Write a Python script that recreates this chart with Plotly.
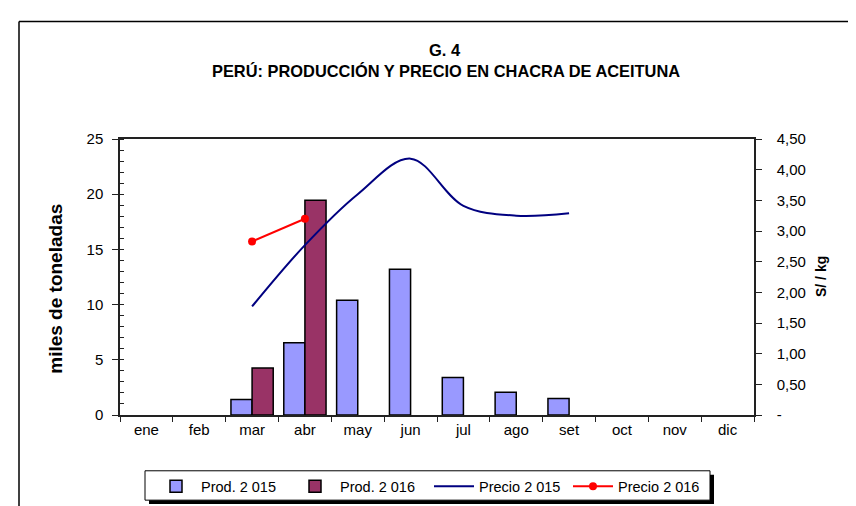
import plotly.graph_objects as go

months = ["ene", "feb", "mar", "abr", "may", "jun", "jul", "ago", "set", "oct", "nov", "dic"]
prod_2015 = [None, None, 1.4, 6.55, 10.4, 13.2, 3.4, 2.05, 1.5, None, None, None]
prod_2016 = [None, None, 4.25, 19.45, None, None, None, None, None, None, None, None]
precio_2015 = [None, None, 1.77, 2.77, 3.60, 4.18, 3.41, 3.25, 3.29, None, None, None]
precio_2016 = [None, None, 2.83, 3.20, None, None, None, None, None, None, None, None]

y_left_ticks = [0, 5, 10, 15, 20, 25]
y_right_ticks = [0, 0.5, 1, 1.5, 2, 2.5, 3, 3.5, 4, 4.5]
y_right_text = ["-", "0,50", "1,00", "1,50", "2,00", "2,50", "3,00", "3,50", "4,00", "4,50"]

W, H = 856, 506
L, R, T, B = 112, 746, 131, 413


def px(x):
    return (x - L) / (R - L)


def py(y):
    return (B - y) / (B - T)


FONT = "Liberation Sans, Arial, sans-serif"

fig = go.Figure()
fig.add_trace(go.Bar(x=months, y=prod_2015, name="Prod. 2 015",
                     marker=dict(color="#9999FF", line=dict(color="black", width=1.5))))
fig.add_trace(go.Bar(x=months, y=prod_2016, name="Prod. 2 016",
                     marker=dict(color="#993366", line=dict(color="black", width=1.5))))
fig.add_trace(go.Scatter(x=months, y=precio_2015, name="Precio 2 015", yaxis="y2",
                         mode="lines", line=dict(color="#000080", width=2, shape="spline", smoothing=1.0),
                         connectgaps=False))
fig.add_trace(go.Scatter(x=months, y=precio_2016, name="Precio 2 016", yaxis="y2",
                         mode="lines+markers", line=dict(color="#FF0000", width=2),
                         marker=dict(color="#FF0000", size=8, symbol="circle")))

shapes = [
    # outer frame (top and left)
    dict(type="line", xref="paper", yref="paper", x0=px(11), x1=px(860), y0=py(11), y1=py(11),
         line=dict(color="black", width=1.5)),
    dict(type="line", xref="paper", yref="paper", x0=px(11), x1=px(11), y0=py(11), y1=py(510),
         line=dict(color="black", width=1.5)),
    # legend shadow and box
    dict(type="rect", xref="paper", yref="paper", x0=px(141), x1=px(706), y0=py(474), y1=py(504),
         fillcolor="black", line=dict(width=0), layer="below"),
    dict(type="rect", xref="paper", yref="paper", x0=px(137), x1=px(702), y0=py(470), y1=py(500),
         fillcolor="white", line=dict(color="black", width=1), layer="below"),
]

annotations = [
    dict(text="<b>G. 4</b>", xref="paper", yref="paper", x=px(437), y=py(40), showarrow=False,
         xanchor="center", yanchor="middle", font=dict(family=FONT, size=16.5, color="black")),
    dict(text="<b>PERÚ: PRODUCCIÓN Y PRECIO EN CHACRA DE ACEITUNA</b>", xref="paper", yref="paper",
         x=px(438), y=py(62), showarrow=False, xanchor="center", yanchor="middle",
         font=dict(family=FONT, size=16.4, color="black")),
    dict(text="<b>miles de toneladas</b>", xref="paper", yref="paper", x=px(48), y=py(284),
         showarrow=False, textangle=-90, xanchor="center", yanchor="middle",
         font=dict(family=FONT, size=19, color="black")),
    dict(text="<b>S/ / kg</b>", xref="paper", yref="paper", x=px(813), y=py(272),
         showarrow=False, textangle=-90, xanchor="center", yanchor="middle",
         font=dict(family=FONT, size=14, color="black")),
]

fig.update_layout(
    width=W, height=H,
    margin=dict(l=L, r=W - R, t=T, b=H - B, pad=0),
    paper_bgcolor="white", plot_bgcolor="white",
    font=dict(family=FONT, size=15, color="black"),
    barmode="group", bargap=0.2, bargroupgap=0,
    showlegend=True,
    legend=dict(orientation="h", x=px(143), y=py(486), xanchor="left", yanchor="middle",
                font=dict(family=FONT, size=14.5, color="black"), bgcolor="rgba(0,0,0,0)",
                traceorder="normal", itemwidth=40, tracegroupgap=0,
                entrywidth=84, entrywidthmode="pixels"),
    xaxis=dict(type="category", categoryorder="array", categoryarray=months,
               showline=True, linecolor="#222", linewidth=1.5, mirror=True,
               ticks="outside", ticklen=5, tickcolor="#222", tickson="boundaries",
               showgrid=False, tickfont=dict(size=15), range=[-0.5, 11.5]),
    yaxis=dict(range=[0, 25], tickvals=y_left_ticks, ticktext=[str(v) for v in y_left_ticks],
               showline=True, linecolor="#222", linewidth=1.5, ticks="outside", ticklen=6,
               tickcolor="#222", showgrid=False, zeroline=False, tickfont=dict(size=15),
               ticklabelstandoff=6,
               minor=dict(ticks="inside", ticklen=4, dtick=1, tickcolor="#222", showgrid=False)),
    yaxis2=dict(range=[0, 4.5], overlaying="y", side="right", tickvals=y_right_ticks,
                ticktext=y_right_text, showline=True, linecolor="#222", linewidth=1.5,
                ticks="outside", ticklen=6, tickcolor="#222", showgrid=False, zeroline=False,
                tickfont=dict(size=15), ticklabelstandoff=12),
    shapes=shapes,
    annotations=annotations,
)

fig.write_html("out.html")
